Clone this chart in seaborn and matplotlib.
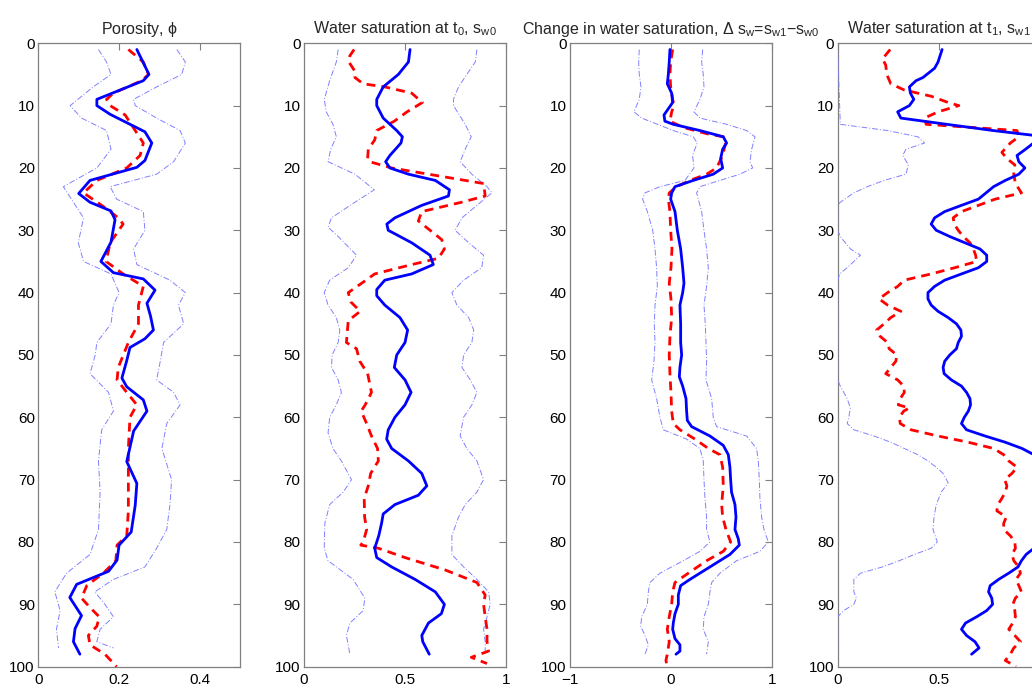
import numpy as np
import pandas as pd
import matplotlib
matplotlib.use("Agg")
import matplotlib.pyplot as plt
import seaborn as sns

# ---------------- data ----------------
# Panel 1: porosity
phi_mean_d = [1, 5, 6, 9, 10, 11.4, 14.2, 16, 18.8, 19.9, 22, 24.1, 25.5, 26.9, 28.3, 31.9, 35, 36.8, 37.8, 39.6,
              41.7, 43.8, 46, 47.4, 48.8, 50.9, 53.7, 55.1, 57.2, 59, 62.2, 67.1, 70.6, 74.1, 78.4, 80.5, 82.9, 84.7,
              86.8, 88.9, 91.8, 93.9, 96, 98]
phi_mean = [0.244, 0.274, 0.26, 0.145, 0.145, 0.178, 0.264, 0.281, 0.264, 0.244, 0.128, 0.10, 0.128, 0.18, 0.19,
            0.18, 0.155, 0.186, 0.26, 0.289, 0.269, 0.278, 0.285, 0.264, 0.227, 0.219, 0.207, 0.219, 0.26, 0.269,
            0.236, 0.219, 0.244, 0.24, 0.23, 0.2, 0.195, 0.174, 0.095, 0.078, 0.107, 0.091, 0.087, 0.103]
phi_true_d = [1, 3, 5, 6, 8, 9, 10, 11.5, 14, 16, 18, 20, 22, 24, 26, 28, 29, 32, 35, 37, 39, 42, 45, 48, 52, 54,
              56, 58, 60, 65, 70, 75, 79, 80.5, 83, 85, 87, 89, 90.5, 92, 93.5, 95, 96.5, 98, 100]
phi_true = [0.223, 0.26, 0.273, 0.256, 0.186, 0.169, 0.178, 0.215, 0.24, 0.26, 0.252, 0.219, 0.145, 0.112, 0.157,
            0.198, 0.21, 0.178, 0.168, 0.21, 0.26, 0.248, 0.248, 0.223, 0.198, 0.195, 0.219, 0.244, 0.227, 0.223,
            0.223, 0.223, 0.219, 0.195, 0.192, 0.161, 0.12, 0.107, 0.128, 0.151, 0.145, 0.124, 0.128, 0.165, 0.194]
phi_lo_d = [1, 3, 5, 7, 10, 12, 14, 17, 20, 23, 25.5, 28, 32, 35, 37, 40, 42, 45, 48, 50, 53, 56, 59, 62, 67, 72,
            78, 82, 85, 88, 91, 94, 97]
phi_lo = [0.149, 0.169, 0.18, 0.136, 0.079, 0.107, 0.169, 0.18, 0.145, 0.062, 0.087, 0.112, 0.099, 0.112, 0.18,
          0.2, 0.186, 0.18, 0.145, 0.141, 0.128, 0.174, 0.186, 0.157, 0.149, 0.153, 0.149, 0.128, 0.07, 0.041,
          0.054, 0.045, 0.05]
phi_hi_d = [1, 3, 5, 7, 9, 10, 12, 14, 16, 19, 21, 23, 25, 27, 30, 33, 35.5, 38, 40, 42, 45, 48, 51, 54, 56, 58,
            61, 65, 70, 74, 78, 81, 84, 86, 88, 90, 92, 94, 96, 97]
phi_hi = [0.343, 0.364, 0.355, 0.293, 0.236, 0.24, 0.293, 0.351, 0.364, 0.335, 0.293, 0.178, 0.194, 0.26, 0.264,
          0.236, 0.244, 0.326, 0.364, 0.347, 0.36, 0.31, 0.302, 0.293, 0.335, 0.351, 0.318, 0.306, 0.33, 0.326,
          0.318, 0.293, 0.264, 0.186, 0.14, 0.165, 0.186, 0.153, 0.145, 0.186]

# Panel 2: water saturation at t0
sw0_mean_d = [1, 3, 5, 7, 9, 10, 12, 14, 15, 16, 18, 19, 20, 21, 22, 23.5, 24.5, 26, 28, 29, 30, 32, 34, 35.5, 37,
              38, 39.5, 40.5, 42, 44, 46, 48, 50, 52, 54, 56, 58, 60, 62, 63.5, 65, 67, 69, 71, 72.5, 74, 75.5, 77,
              79, 81, 82.5, 84, 86, 88, 90, 91.5, 93, 95, 96, 98]
sw0_mean = [0.525, 0.517, 0.467, 0.392, 0.36, 0.36, 0.392, 0.459, 0.487, 0.48, 0.425, 0.404, 0.425, 0.517, 0.65,
            0.72, 0.715, 0.583, 0.45, 0.41, 0.417, 0.533, 0.624, 0.64, 0.533, 0.4, 0.36, 0.36, 0.4, 0.475, 0.513,
            0.5, 0.459, 0.447, 0.5, 0.53, 0.5, 0.45, 0.417, 0.409, 0.434, 0.517, 0.583, 0.608, 0.566, 0.45, 0.392,
            0.384, 0.37, 0.35, 0.36, 0.434, 0.55, 0.65, 0.695, 0.68, 0.616, 0.583, 0.588, 0.62]
sw0_true_d = [1, 2, 3, 4.5, 5.5, 6.5, 7, 8, 9.5, 11, 12.5, 14, 15.5, 17, 18.5, 19, 20, 21, 22.5, 24.5, 25.5, 27,
              28.5, 30, 31.5, 33, 34.5, 35.5, 37, 38.5, 40, 41.5, 43, 44.5, 46, 48, 49, 51, 53, 56, 58, 59, 61, 63,
              65, 67, 69, 71, 73, 76, 78, 80, 80.5, 81, 82.5, 84.5, 86.5, 88.5, 90, 92, 94, 96, 97.5, 98.5, 99.5]
sw0_true = [0.248, 0.227, 0.222, 0.252, 0.252, 0.293, 0.4, 0.533, 0.586, 0.51, 0.447, 0.36, 0.35, 0.318, 0.315,
            0.325, 0.434, 0.616, 0.889, 0.897, 0.78, 0.583, 0.566, 0.624, 0.682, 0.695, 0.665, 0.533, 0.35, 0.285,
            0.219, 0.232, 0.278, 0.219, 0.215, 0.21, 0.26, 0.276, 0.315, 0.334, 0.303, 0.283, 0.31, 0.334, 0.364,
            0.368, 0.33, 0.318, 0.298, 0.3, 0.31, 0.293, 0.281, 0.368, 0.5, 0.7, 0.856, 0.897, 0.889, 0.897, 0.906,
            0.906, 0.914, 0.828, 0.906]
sw0_lo_d = [1, 3, 6, 9, 11, 13, 15, 17, 19, 21, 23.5, 25.5, 28, 29.5, 31, 34, 36, 38, 40, 42, 44, 46, 48, 50, 52,
            54, 56, 58, 60, 62.5, 65, 67, 70, 72, 74, 77, 81, 83, 86, 89, 91, 93, 95, 98]
sw0_lo = [0.169, 0.16, 0.127, 0.1, 0.11, 0.143, 0.16, 0.132, 0.119, 0.252, 0.348, 0.252, 0.136, 0.119, 0.169, 0.26,
          0.219, 0.127, 0.1, 0.119, 0.16, 0.177, 0.169, 0.139, 0.136, 0.169, 0.185, 0.16, 0.127, 0.119, 0.143,
          0.185, 0.235, 0.194, 0.127, 0.103, 0.1, 0.119, 0.243, 0.301, 0.293, 0.227, 0.21, 0.227]
sw0_hi_d = [1, 3, 5, 7, 9, 10, 13, 15, 17, 19, 21, 23, 24, 26, 28, 30, 32, 34, 36, 38, 40, 42, 44, 46, 48, 50, 52,
            54, 56, 58, 60, 63, 65, 67, 70, 72, 74, 76, 79, 82, 84, 86, 88, 90, 92, 94, 96, 98]
sw0_hi = [0.856, 0.848, 0.806, 0.765, 0.74, 0.74, 0.798, 0.828, 0.798, 0.773, 0.831, 0.906, 0.93, 0.856, 0.782,
          0.748, 0.815, 0.889, 0.88, 0.79, 0.732, 0.757, 0.815, 0.84, 0.831, 0.79, 0.782, 0.823, 0.856, 0.831, 0.79,
          0.773, 0.806, 0.856, 0.889, 0.856, 0.798, 0.765, 0.732, 0.732, 0.79, 0.856, 0.914, 0.922, 0.906, 0.889,
          0.897, 0.897]

# Panel 3: change in water saturation
dsw_mean_d = [1, 3, 5, 6.5, 8, 9.5, 10.5, 11.5, 12.5, 13, 14, 15, 16, 17, 18.5, 20, 21, 22, 23, 24, 25, 27, 30, 33,
              36, 38.5, 40, 42, 45, 48, 50, 52, 53.5, 55, 57, 59, 60.5, 61.5, 63, 64.5, 66, 68, 70, 72, 74, 76, 78,
              79.5, 80.5, 82, 84, 86, 87, 88.5, 90, 91.5, 93, 94, 95.5, 96.5, 97.5, 98]
dsw_mean = [-0.01, -0.017, -0.026, -0.036, 0.007, 0.017, -0.026, -0.069, -0.06, 0.023, 0.287, 0.518, 0.551, 0.512,
            0.492, 0.512, 0.419, 0.221, 0.04, 0.007, -0.003, 0.04, 0.063, 0.096, 0.116, 0.129, 0.116, 0.089, 0.096,
            0.096, 0.106, 0.089, 0.083, 0.116, 0.149, 0.155, 0.162, 0.205, 0.386, 0.518, 0.568, 0.584, 0.591, 0.6,
            0.634, 0.644, 0.634, 0.667, 0.677, 0.584, 0.386, 0.188, 0.096, 0.073, 0.073, 0.04, 0.023, 0.017, 0.04,
            0.089, 0.089, 0.05]
dsw_true_d = [1, 3, 5, 7, 9, 10, 11, 12.5, 13.5, 14.5, 15, 16, 18, 20, 21, 22, 23, 24, 25, 27, 30, 33, 36, 38.5, 41,
              44, 47, 50, 53, 56, 59, 61, 62, 63.5, 65, 66, 68, 71, 74, 76, 78, 80, 81.5, 83, 85, 86.5, 88, 90, 92,
              94, 96, 98, 99, 100]
dsw_true = [0.017, -0.003, -0.01, -0.003, 0.017, 0.03, 0.007, -0.01, 0.122, 0.353, 0.518, 0.541, 0.512, 0.452,
            0.353, 0.188, 0.056, -0.017, -0.026, -0.01, -0.003, 0.01, 0.0, -0.017, 0.0, 0.007, -0.01, -0.017,
            -0.01, 0.0, 0.007, 0.023, 0.089, 0.238, 0.37, 0.485, 0.512, 0.518, 0.502, 0.512, 0.545, 0.591, 0.518,
            0.353, 0.172, 0.04, 0.017, 0.007, -0.017, -0.036, -0.017, -0.036, -0.05, -0.036]
dsw_lo_d = [1, 3, 5, 7, 9, 11, 12, 14, 15, 16, 18, 20, 22, 23, 24, 25, 27, 30, 33, 36, 39, 42, 45, 48, 51, 54, 57,
            60, 62, 63.5, 65, 67, 70, 73, 76, 78, 80, 81.5, 83, 85, 86.5, 88, 90, 92, 93.5, 95, 96.5, 98]
dsw_lo = [-0.314, -0.32, -0.314, -0.297, -0.314, -0.366, -0.29, 0.023, 0.221, 0.26, 0.214, 0.228, 0.139, -0.109,
          -0.257, -0.281, -0.234, -0.181, -0.158, -0.142, -0.135, -0.158, -0.165, -0.158, -0.168, -0.191, -0.142,
          -0.109, -0.076, 0.155, 0.287, 0.32, 0.327, 0.337, 0.353, 0.353, 0.386, 0.287, 0.122, -0.109, -0.208,
          -0.224, -0.234, -0.29, -0.3, -0.257, -0.224, -0.257]
dsw_hi_d = [1, 3, 5, 7, 9, 11, 12, 13, 14, 15, 17, 19, 20, 21, 22, 23, 24, 27, 30, 33, 36, 39, 42, 45, 48, 51, 54,
            57, 60, 61.5, 63, 65, 67, 70, 73, 76, 78, 80, 81.5, 83, 85, 86.5, 88, 90, 92, 94, 96, 98]
dsw_hi = [0.314, 0.304, 0.32, 0.327, 0.287, 0.228, 0.287, 0.551, 0.749, 0.832, 0.799, 0.782, 0.809, 0.683, 0.485,
          0.287, 0.254, 0.304, 0.327, 0.353, 0.37, 0.353, 0.327, 0.34, 0.347, 0.353, 0.347, 0.403, 0.419, 0.452,
          0.749, 0.848, 0.865, 0.875, 0.881, 0.898, 0.921, 0.964, 0.881, 0.65, 0.485, 0.403, 0.386, 0.37, 0.327,
          0.32, 0.37, 0.353]

# Panel 4: water saturation at t1
sw1_mean_d = [1, 3, 4, 5.5, 6, 7, 8, 9, 10, 11, 12, 13, 14, 15, 16, 17, 18, 19, 20, 21, 22, 23, 25, 26, 27, 28, 29,
              30, 31, 32, 33, 34, 35, 36, 37, 38, 39, 40, 41, 42, 43, 44, 45, 46, 47, 48, 49, 50, 51, 52, 53, 54,
              55, 56, 57, 58, 59, 60, 61, 62, 63, 64, 65, 66, 67, 68, 70, 72, 75, 78, 80, 81, 82, 83, 84, 85, 86,
              87, 88, 89, 90, 91, 92, 93, 94, 95, 96, 97, 98]
sw1_mean = [0.517, 0.497, 0.48, 0.422, 0.388, 0.355, 0.36, 0.377, 0.355, 0.297, 0.313, 0.54, 0.77, 1.03, 0.97,
            0.93, 0.888, 0.897, 0.927, 0.897, 0.83, 0.772, 0.697, 0.613, 0.53, 0.48, 0.463, 0.488, 0.555, 0.63,
            0.705, 0.738, 0.738, 0.697, 0.613, 0.53, 0.48, 0.447, 0.447, 0.463, 0.497, 0.547, 0.588, 0.61, 0.613,
            0.597, 0.588, 0.555, 0.53, 0.522, 0.527, 0.563, 0.613, 0.638, 0.655, 0.658, 0.647, 0.627, 0.613,
            0.638, 0.73, 0.83, 0.913, 0.972, 1.05, 1.12, 1.18, 1.2, 1.22, 1.25, 1.1, 0.972, 0.933, 0.91, 0.893,
            0.847, 0.797, 0.755, 0.747, 0.763, 0.767, 0.738, 0.688, 0.633, 0.613, 0.638, 0.68, 0.7, 0.663]
sw1_true_d = [1, 2.5, 3.5, 5, 6.5, 7.5, 8.5, 9.5, 10, 11, 12, 13, 13.5, 14, 15, 16, 17.5, 18.5, 19.5, 21, 22.5, 24,
              25, 26, 27, 28, 29, 30, 31, 32, 33, 34, 35, 36, 37, 38, 39, 40, 41, 42, 43, 44, 45, 46, 47, 48, 49,
              50, 51, 52, 53, 54, 55, 56, 57, 58, 58.5, 59, 60, 61, 62, 63, 64, 65, 66, 67, 68, 69, 70, 71, 72, 73,
              74, 75, 76, 77, 78, 79, 80, 81, 82, 83, 84, 85, 86, 87, 88, 89, 90, 91, 92, 93, 94, 95, 96, 97, 98,
              99, 100]
sw1_true = [0.26, 0.222, 0.238, 0.243, 0.263, 0.33, 0.463, 0.547, 0.6, 0.497, 0.43, 0.438, 0.663, 0.888, 0.897,
            0.855, 0.813, 0.838, 0.877, 0.872, 0.88, 0.91, 0.78, 0.697, 0.613, 0.572, 0.577, 0.597, 0.622, 0.655,
            0.672, 0.683, 0.688, 0.58, 0.463, 0.33, 0.297, 0.247, 0.205, 0.247, 0.313, 0.263, 0.23, 0.193, 0.21,
            0.247, 0.255, 0.293, 0.288, 0.263, 0.238, 0.297, 0.327, 0.33, 0.31, 0.3, 0.355, 0.327, 0.305, 0.31,
            0.363, 0.497, 0.647, 0.772, 0.822, 0.847, 0.888, 0.863, 0.827, 0.838, 0.83, 0.813, 0.793, 0.788, 0.835,
            0.822, 0.822, 0.855, 0.877, 0.88, 0.863, 0.872, 0.897, 0.905, 0.883, 0.897, 0.91, 0.88, 0.867, 0.877,
            0.88, 0.867, 0.847, 0.877, 0.905, 0.872, 0.855, 0.83, 0.883]
sw1_lo_d = [1, 13, 14, 15, 16, 17, 18, 19.5, 21, 22, 23, 24, 25.5, 26, 30, 31, 33, 34, 35, 36, 37, 38, 54, 55, 57,
            58.5, 60, 61, 62, 63, 64, 65, 66, 67, 68, 69, 70.5, 72, 74, 76, 78, 80, 81, 82, 83, 84, 85, 86, 88, 89,
            90, 91, 92, 98]
sw1_lo = [0.0, 0.013, 0.247, 0.397, 0.43, 0.338, 0.322, 0.35, 0.338, 0.23, 0.147, 0.08, 0.013, 0.0, 0.0, 0.013,
          0.063, 0.113, 0.08, 0.047, 0.01, 0.0, 0.0, 0.013, 0.047, 0.063, 0.055, 0.047, 0.08, 0.18, 0.263, 0.33,
          0.397, 0.447, 0.488, 0.522, 0.547, 0.513, 0.488, 0.477, 0.472, 0.493, 0.463, 0.38, 0.305, 0.222, 0.113,
          0.08, 0.08, 0.093, 0.08, 0.03, 0.0, 0.0]
sw1_hi_d = [1, 5, 8, 10, 11, 12, 13, 15, 20, 30, 40, 50, 60, 70, 80, 90, 98]
sw1_hi = [1.2, 1.1, 1.05, 0.99, 0.97, 0.985, 1.2, 1.5, 1.4, 1.1, 1.05, 1.15, 1.2, 1.6, 1.55, 1.3, 1.2]

titles = ["Porosity, $\\phi$",
          "Water saturation at t$_0$, s$_{w0}$",
          "Change in water saturation, \u0394 s$_w$=s$_{w1}$\u2212s$_{w0}$",
          "Water saturation at t$_1$, s$_{w1}$"]
xlims = [(0, 0.5), (0, 1), (-1, 1), (0, 1)]
xticks = [[0, 0.2, 0.4], [0, 0.5, 1], [-1, 0, 1], [0, 0.5, 1]]
xticklabels = [["0", "0.2", "0.4"], ["0", "0.5", "1"], ["\u22121", "0", "1"], ["0", "0.5", ""]]
yticks = list(range(0, 101, 10))

panels = [
    [(phi_mean_d, phi_mean), (phi_true_d, phi_true), (phi_lo_d, phi_lo), (phi_hi_d, phi_hi)],
    [(sw0_mean_d, sw0_mean), (sw0_true_d, sw0_true), (sw0_lo_d, sw0_lo), (sw0_hi_d, sw0_hi)],
    [(dsw_mean_d, dsw_mean), (dsw_true_d, dsw_true), (dsw_lo_d, dsw_lo), (dsw_hi_d, dsw_hi)],
    [(sw1_mean_d, sw1_mean), (sw1_true_d, sw1_true), (sw1_lo_d, sw1_lo), (sw1_hi_d, sw1_hi)],
]

# ---------------- style ----------------
sns.set_style("white")
plt.rcParams["font.family"] = ["Liberation Sans", "DejaVu Sans"]
plt.rcParams["mathtext.fontset"] = "custom"
plt.rcParams["mathtext.rm"] = "Liberation Sans"
plt.rcParams["mathtext.it"] = "Liberation Sans"
plt.rcParams["mathtext.default"] = "regular"

fig = plt.figure(figsize=(10.32, 6.89), dpi=100)
lefts = [0.0371, 0.2946, 0.5523, 0.8117]
width = 0.1957
bottom = 0.0324
height = 0.9048

styles = [
    dict(color="#0000ff", linewidth=2.0, linestyle="-", zorder=4),
    dict(color="#ff0000", linewidth=2.0, linestyle=(0, (3.2, 2.2)), zorder=3.5),
    dict(color="#8080ff", linewidth=0.7, linestyle=(0, (6, 2, 1, 2)), zorder=3),
    dict(color="#8080ff", linewidth=0.7, linestyle=(0, (6, 2, 1, 2)), zorder=3),
]
order = [2, 3, 1, 0]

for i in range(4):
    ax = fig.add_axes([lefts[i], bottom, width, height])
    for k in order:
        d, v = panels[i][k]
        df = pd.DataFrame({"depth": d, "val": v})
        sns.lineplot(data=df, x="val", y="depth", ax=ax, sort=False, estimator=None,
                     orient="y", legend=False, **styles[k])
    ax.set_xlim(*xlims[i])
    ax.set_ylim(100, 0)
    ax.set_xticks(xticks[i])
    ax.set_xticklabels(xticklabels[i])
    ax.set_yticks(yticks)
    ax.set_xlabel("")
    ax.set_ylabel("")
    ax.tick_params(direction="in", length=5, width=0.8, color="#808080",
                   top=True, right=True, labelsize=11, labelcolor="black")
    ax.tick_params(axis="x", pad=4.5)
    ax.tick_params(axis="y", pad=2.5)
    for s in ax.spines.values():
        s.set_color("#808080")
        s.set_linewidth(0.9)
    ax.set_title(titles[i], fontsize=11.5, pad=7)

fig.savefig("out.png", dpi=100)
